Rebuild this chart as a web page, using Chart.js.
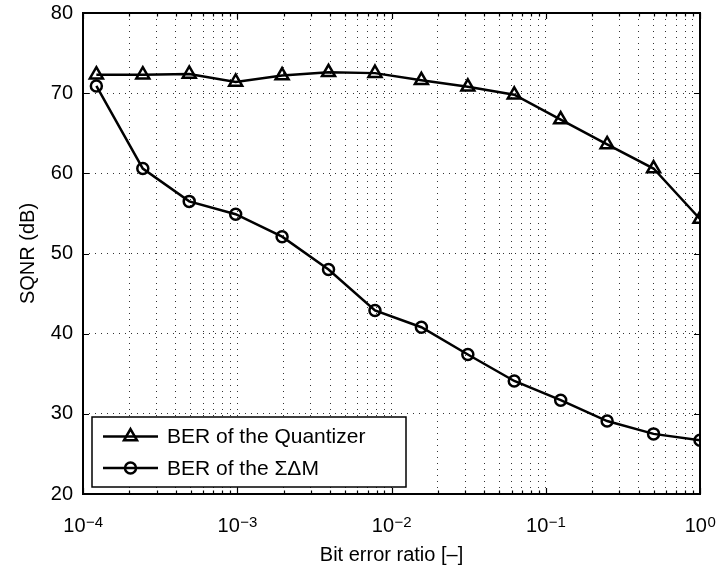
<!DOCTYPE html>
<html>
<head>
<meta charset="utf-8">
<script src="https://cdn.jsdelivr.net/npm/chart.js@4/dist/chart.umd.min.js"></script>
<style>
html, body { margin: 0; padding: 0; background: #fff; }
#wrap { width: 717px; height: 572px; position: relative; }
</style>
</head>
<body>
<div id="wrap"><canvas id="c" width="717" height="572"></canvas></div>
<script>
// ---- data ----
const bitErrorRatio = [0.0001220703125, 0.000244140625, 0.00048828125, 0.0009765625, 0.001953125, 0.00390625, 0.0078125, 0.015625, 0.03125, 0.0625, 0.125, 0.25, 0.5, 1];
const sqnrQuantizer = [72.3, 72.3, 72.4, 71.4, 72.2, 72.6, 72.5, 71.6, 70.8, 69.8, 66.7, 63.6, 60.6, 54.3];
const sqnrSigmaDelta = [70.9, 60.6, 56.5, 54.9, 52.1, 48.0, 42.9, 40.8, 37.4, 34.1, 31.7, 29.1, 27.5, 26.7];
const seriesNames = ['BER of the Quantizer', 'BER of the \u03A3\u0394M'];
const xDecades = [1e-4, 1e-3, 1e-2, 1e-1, 1];
const xTickBase = '10';
const xTickExponents = ['\u22124', '\u22123', '\u22122', '\u22121', '0'];
const yTickValues = [20, 30, 40, 50, 60, 70, 80];
const xAxisTitle = 'Bit error ratio [\u2013]';
const yAxisTitle = 'SQNR (dB)';

// ---- styling ----
const FONT = 'Liberation Sans, Arial, Helvetica, sans-serif';
const INK = '#000';

// minor grid positions for the log axis (1..9 x each decade)
const xGridValues = [];
xDecades.forEach((d, i) => {
  xGridValues.push(d);
  if (i < xDecades.length - 1) for (let m = 2; m <= 9; m++) xGridValues.push(d * m);
});
const decadeIndex = v => xDecades.findIndex(d => Math.abs(Math.log10(d) - Math.log10(v)) < 1e-6);

const toPoints = ys => bitErrorRatio.map((x, i) => ({ x: x, y: ys[i] }));

const framePlugin = {
  id: 'frame',
  afterDatasetsDraw(chart) {
    const { ctx, chartArea: a } = chart;
    const xs = chart.scales.x, ys = chart.scales.y;
    ctx.save();
    ctx.strokeStyle = INK;
    ctx.lineWidth = 1.2;
    ctx.beginPath();
    xs.ticks.forEach(t => {
      const px = Math.round(xs.getPixelForValue(t.value)) + 0.5;
      const len = decadeIndex(t.value) >= 0 ? 6 : 3.5;
      ctx.moveTo(px, a.bottom); ctx.lineTo(px, a.bottom - len);
      ctx.moveTo(px, a.top); ctx.lineTo(px, a.top + len);
    });
    yTickValues.forEach(v => {
      const py = Math.round(ys.getPixelForValue(v)) + 0.5;
      ctx.moveTo(a.left, py); ctx.lineTo(a.left + 6, py);
      ctx.moveTo(a.right, py); ctx.lineTo(a.right - 6, py);
    });
    ctx.stroke();
    ctx.lineWidth = 2;
    ctx.strokeRect(a.left, a.top, a.right - a.left, a.bottom - a.top);

    // decade tick labels: 10 with a raised exponent
    ctx.fillStyle = INK;
    ctx.textBaseline = 'alphabetic';
    ctx.textAlign = 'left';
    xDecades.forEach((d, i) => {
      const px = xs.getPixelForValue(d);
      ctx.font = '20px ' + FONT;
      const wb = ctx.measureText(xTickBase).width;
      ctx.font = '15px ' + FONT;
      const we = ctx.measureText(xTickExponents[i]).width;
      const x0 = px - (wb + we) / 2;
      ctx.font = '20px ' + FONT;
      ctx.fillText(xTickBase, x0, a.bottom + 38);
      ctx.font = '15px ' + FONT;
      ctx.fillText(xTickExponents[i], x0 + wb + 0.5, a.bottom + 33);
    });
    ctx.restore();
  },
  afterDraw(chart) {
    const { ctx, chartArea: a } = chart;
    const bx = a.left + 9, by = a.bottom - 77, bw = 314, bh = 70;
    ctx.save();
    ctx.fillStyle = '#fff';
    ctx.fillRect(bx, by, bw, bh);
    ctx.strokeStyle = INK;
    ctx.lineWidth = 1.5;
    ctx.strokeRect(bx, by, bw, bh);
    chart.data.datasets.forEach((ds, i) => {
      const cy = by + 19.5 + i * 31.5;
      ctx.strokeStyle = ds.borderColor;
      ctx.lineWidth = ds.borderWidth;
      ctx.beginPath();
      ctx.moveTo(bx + 11, cy); ctx.lineTo(bx + 66, cy);
      ctx.stroke();
      ctx.fillStyle = 'rgba(0,0,0,0)';
      ctx.lineWidth = ds.pointBorderWidth;
      Chart.helpers.drawPoint(ctx, { pointStyle: ds.pointStyle, radius: ds.pointRadius, borderWidth: ds.pointBorderWidth, rotation: 0 }, bx + 38.5, cy);
      ctx.fillStyle = INK;
      ctx.font = '21px ' + FONT;
      ctx.textBaseline = 'middle';
      ctx.textAlign = 'left';
      ctx.fillText(ds.label, bx + 75, cy + 1);
    });
    ctx.restore();
  }
};

new Chart(document.getElementById('c'), {
  type: 'line',
  data: {
    datasets: [
      {
        label: seriesNames[0],
        data: toPoints(sqnrQuantizer),
        borderColor: INK, borderWidth: 2.5,
        pointStyle: 'triangle', pointRadius: 7.5, pointBorderWidth: 2.5,
        pointBackgroundColor: 'rgba(0,0,0,0)', pointBorderColor: INK,
        tension: 0, fill: false
      },
      {
        label: seriesNames[1],
        data: toPoints(sqnrSigmaDelta),
        borderColor: INK, borderWidth: 2.5,
        pointStyle: 'circle', pointRadius: 5.5, pointBorderWidth: 2.5,
        pointBackgroundColor: 'rgba(0,0,0,0)', pointBorderColor: INK,
        tension: 0, fill: false
      }
    ]
  },
  options: {
    responsive: false,
    animation: false,
    layout: { padding: { top: 13, right: 17, left: 0, bottom: 0 } },
    plugins: { legend: { display: false }, tooltip: { enabled: false } },
    scales: {
      x: {
        type: 'logarithmic',
        position: 'bottom',
        min: 1e-4, max: 1,
        afterBuildTicks: s => { s.ticks = xGridValues.map(v => ({ value: v })); },
        afterFit: s => { s.height = 78; s.paddingLeft = 0; s.paddingRight = 0; },
        ticks: { display: false, autoSkip: false, maxRotation: 0, minRotation: 0 },
        grid: { color: '#333', lineWidth: 1, drawTicks: false },
        border: { display: false, dash: [1, 5] },
        title: { display: true, text: xAxisTitle, color: INK, font: { family: FONT, size: 20 }, padding: { top: 0, bottom: 5 } }
      },
      y: {
        type: 'linear',
        min: 20, max: 80,
        afterBuildTicks: s => { s.ticks = yTickValues.map(v => ({ value: v })); },
        afterFit: s => { s.width = 83; s.paddingTop = 0; s.paddingBottom = 0; },
        ticks: { padding: 10, color: INK, font: { family: FONT, size: 20 } },
        grid: { color: '#333', lineWidth: 1, drawTicks: false },
        border: { display: false, dash: [1, 5] },
        title: { display: true, text: yAxisTitle, color: INK, font: { family: FONT, size: 20 }, padding: { top: 16, bottom: 0 } }
      }
    }
  },
  plugins: [framePlugin]
});
</script>
</body>
</html>
